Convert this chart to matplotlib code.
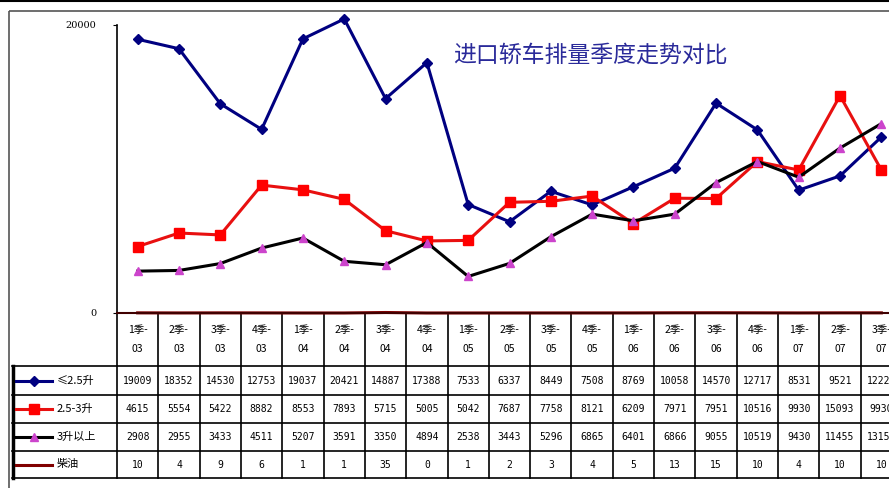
import matplotlib.pyplot as plt
from matplotlib.transforms import blended_transform_factory
from matplotlib.lines import Line2D
from matplotlib.patches import Rectangle

plt.rcParams['font.family'] = ['Noto Sans CJK SC', 'DejaVu Sans']

# quarterly import volumes by engine size
quarters = ["1季-\n03", "2季-\n03", "3季-\n03", "4季-\n03",
            "1季-\n04", "2季-\n04", "3季-\n04", "4季-\n04",
            "1季-\n05", "2季-\n05", "3季-\n05", "4季-\n05",
            "1季-\n06", "2季-\n06", "3季-\n06", "4季-\n06",
            "1季-\n07", "2季-\n07", "3季-\n07"]
below_25 = [19009, 18352, 14530, 12753, 19037, 20421, 14887, 17388, 7533, 6337,
            8449, 7508, 8769, 10058, 14570, 12717, 8531, 9521, 12220]
from_25_to_3 = [4615, 5554, 5422, 8882, 8553, 7893, 5715, 5005, 5042, 7687,
                7758, 8121, 6209, 7971, 7951, 10516, 9930, 15093, 9930]
above_3 = [2908, 2955, 3433, 4511, 5207, 3591, 3350, 4894, 2538, 3443,
           5296, 6865, 6401, 6866, 9055, 10519, 9430, 11455, 13151]
diesel = [10, 4, 9, 6, 1, 1, 35, 0, 1, 2, 3, 4, 5, 13, 15, 10, 4, 10, 10]

series = [
    ("≤2.5升", below_25, dict(color="#000080", marker="D", markersize=5,
                              markerfacecolor="#000080", markeredgecolor="#000080")),
    ("2.5-3升", from_25_to_3, dict(color="#e81010", marker="s", markersize=7,
                                  markerfacecolor="#ff0000", markeredgecolor="#ff0000")),
    ("3升以上", above_3, dict(color="#000000", marker="^", markersize=6,
                            markerfacecolor="#cc44cc", markeredgecolor="#cc44cc")),
    ("柴油", diesel, dict(color="#800000", marker=None)),
]

W, H = 889, 488
fig = plt.figure(figsize=(W / 100, H / 100), dpi=100)

# full-figure overlay in pixel units for the frame and the data table
bg = fig.add_axes([0, 0, 1, 1])
bg.set_xlim(0, W)
bg.set_ylim(H, 0)
bg.axis("off")
bg.plot([0, W], [1, 1], color="black", lw=1.5)
bg.add_patch(Rectangle((9, 11), W + 20, H, fill=False, ec="#555555", lw=1.2))

x0, x1, ytop, ybot = 117, 902, 25, 313
ax = fig.add_axes([x0 / W, 1 - ybot / H, (x1 - x0) / W, (ybot - ytop) / H])
ax.set_zorder(2)
ax.patch.set_alpha(0)
xs = list(range(len(quarters)))
for name, vals, st in series:
    ax.plot(xs, vals, lw=2.2, clip_on=False, **st)
ax.set_xlim(-0.5, len(quarters) - 0.5)
ax.set_ylim(0, 20000)
ax.set_yticks([0, 20000])
ax.set_yticklabels(["0", "20000"], fontsize=7, family="DejaVu Serif")
ax.tick_params(axis="y", length=3, pad=12)
ax.set_xticks([])
for s in ["top", "right"]:
    ax.spines[s].set_visible(False)
ax.spines["left"].set_linewidth(1.2)
ax.spines["bottom"].set_color("#400000")
ax.spines["bottom"].set_linewidth(1.5)

ax.text(0.603, 0.895, "进口轿车排量季度走势对比", transform=ax.transAxes,
        ha="center", va="center", fontsize=16.5, color="#2a2a9a")

# data table under the plot: x from the category axis, y in pixels
tr = blended_transform_factory(ax.transData, bg.transData)
row_edges = [313, 366, 395, 423, 451, 478]
n = len(quarters)
for y in row_edges[1:]:
    bg.plot([12, W + 10], [y, y], color="black", lw=1.2)
for i in range(n + 1):
    bg.plot([i - 0.5, i - 0.5], [row_edges[0], row_edges[-1]],
            color="black", lw=1.2, transform=tr, clip_on=False)
bg.plot([13, 13], [row_edges[1], row_edges[-1]], color="black", lw=2.5)

for i, q in enumerate(quarters):
    bg.text(i, (row_edges[0] + row_edges[1]) / 2, q, transform=tr,
            ha="center", va="center", fontsize=7.5, linespacing=2.1)

for r, (name, vals, st) in enumerate(series):
    yc = (row_edges[r + 1] + row_edges[r + 2]) / 2
    key = Line2D([16, 52], [yc, yc], lw=2.2, **st)
    if st.get("marker"):
        key.set_markevery([])
        bg.add_line(key)
        bg.plot([34], [yc], linestyle="none", **{k: v for k, v in st.items()
                                                if k != "color"})
    else:
        bg.add_line(key)
    bg.text(57, yc, name, ha="left", va="center", fontsize=8)
    for i, v in enumerate(vals):
        bg.text(i, yc, str(v), transform=tr, ha="center", va="center",
                fontsize=7, family="DejaVu Sans Mono")

fig.savefig("out.png", dpi=100)
